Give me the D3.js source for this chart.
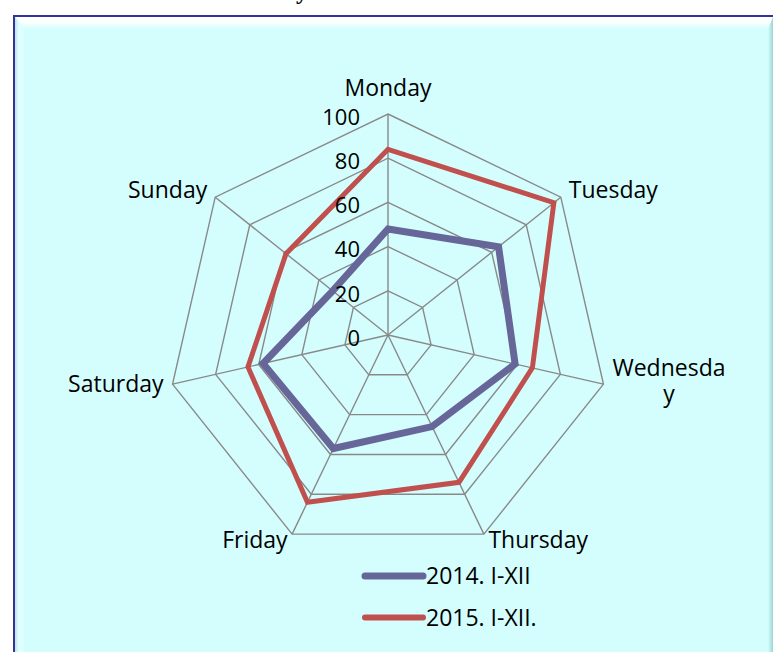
<!DOCTYPE html>
<html>
<head>
<meta charset="utf-8">
<script src="https://cdn.jsdelivr.net/npm/d3@7"></script>
<style>
  html, body { margin: 0; padding: 0; background: #fff; }
  svg { display: block; font-family: 'Open Sans', sans-serif; }
</style>
</head>
<body>
<div id="chart"></div>
<script>
// chart data
const days = ['Monday', 'Tuesday', 'Wednesday', 'Thursday', 'Friday', 'Saturday', 'Sunday'];
const values2014 = [48, 64, 59, 46, 57, 58, 32];
const values2015 = [84, 96, 67, 74, 84, 65, 59];
const tickValues = [0, 20, 40, 60, 80, 100];
const seriesNames = ['2014. I-XII', '2015. I-XII.'];
const seriesColors = ['#666699', '#c0504d'];

const width = 773;
const height = 652;
const cx = 388;
const cy = 335;

const svg = d3.select('#chart')
  .append('svg')
  .attr('width', width)
  .attr('height', height)
  .attr('viewBox', [0, 0, width, height]);

const defs = svg.append('defs');
const topGrad = defs.append('linearGradient').attr('id', 'bevelTop')
  .attr('x1', 0).attr('y1', 0).attr('x2', 0).attr('y2', 1);
topGrad.append('stop').attr('offset', '0%').attr('stop-color', '#ffffff');
topGrad.append('stop').attr('offset', '45%').attr('stop-color', '#fbffff');
topGrad.append('stop').attr('offset', '100%').attr('stop-color', '#d4fefe');
const leftGrad = defs.append('linearGradient').attr('id', 'bevelLeft')
  .attr('x1', 0).attr('y1', 0).attr('x2', 1).attr('y2', 0);
leftGrad.append('stop').attr('offset', '0%').attr('stop-color', '#b9e6ea');
leftGrad.append('stop').attr('offset', '40%').attr('stop-color', '#e6ffff');
leftGrad.append('stop').attr('offset', '100%').attr('stop-color', '#d4fefe');
const rightGrad = defs.append('linearGradient').attr('id', 'bevelRight')
  .attr('x1', 0).attr('y1', 0).attr('x2', 1).attr('y2', 0);
rightGrad.append('stop').attr('offset', '0%').attr('stop-color', '#d4fefe');
rightGrad.append('stop').attr('offset', '100%').attr('stop-color', '#9fd3d3');

// cropped title above the frame
svg.append('text')
  .attr('x', 302)
  .attr('y', -1)
  .attr('text-anchor', 'middle')
  .attr('font-family', "'Liberation Serif', serif")
  .attr('font-weight', 'bold')
  .attr('font-size', 24)
  .text('y');

// frame
svg.append('rect')
  .attr('x', 14)
  .attr('y', 16)
  .attr('width', width + 20)
  .attr('height', height + 20)
  .attr('fill', '#d4fefe')
  .attr('stroke', '#333399')
  .attr('stroke-width', 2);

svg.append('polygon')
  .attr('points', [[15, 17], [width, 17], [768, 29], [25, 29]].join(' '))
  .attr('fill', 'url(#bevelTop)');
svg.append('polygon')
  .attr('points', [[15, 17], [25, 29], [25, height], [15, height]].join(' '))
  .attr('fill', 'url(#bevelLeft)');
svg.append('polygon')
  .attr('points', [[width, 17], [768, 29], [768, height], [width, height]].join(' '))
  .attr('fill', 'url(#bevelRight)');

const r = d3.scaleLinear()
  .domain([0, 100])
  .range([0, 221]);

const angle = d3.scaleLinear()
  .domain([0, days.length])
  .range([0, 2 * Math.PI]);

const point = (i, v) => [cx + r(v) * Math.sin(angle(i)), cy - r(v) * Math.cos(angle(i))];

const g = svg.append('g');

// rings
const ring = d3.line().curve(d3.curveLinearClosed);
g.selectAll('.ring')
  .data(tickValues.filter((t) => t > 0))
  .join('path')
  .attr('class', 'ring')
  .attr('d', (t) => ring(days.map((d, i) => point(i, t))))
  .attr('fill', 'none')
  .attr('stroke', '#898989')
  .attr('stroke-width', 1.4);

// spokes
g.selectAll('.spoke')
  .data(days)
  .join('line')
  .attr('class', 'spoke')
  .attr('x1', cx)
  .attr('y1', cy)
  .attr('x2', (d, i) => point(i, 100)[0])
  .attr('y2', (d, i) => point(i, 100)[1])
  .attr('stroke', '#898989')
  .attr('stroke-width', 1.4);

// series
const radar = d3.lineRadial()
  .angle((d, i) => angle(i))
  .radius((d) => r(d))
  .curve(d3.curveLinearClosed);

[values2014, values2015].forEach((vals, k) => {
  g.append('path')
    .datum(vals)
    .attr('transform', `translate(${cx},${cy})`)
    .attr('d', radar)
    .attr('fill', 'none')
    .attr('stroke', seriesColors[k])
    .attr('stroke-width', k === 0 ? 7 : 5)
    .attr('stroke-linejoin', 'miter');
});

// value ticks
g.selectAll('.tick')
  .data(tickValues)
  .join('text')
  .attr('class', 'tick')
  .attr('x', cx - 28)
  .attr('y', (t) => cy - r(t) + 3)
  .attr('dy', '0.35em')
  .attr('text-anchor', 'end')
  .attr('font-size', 22)
  .attr('fill', '#000')
  .text((t) => t);

// category labels, wrapped like the original when too wide
const maxLabelWidth = 118;
const lineStep = 26;
const labels = g.selectAll('.cat')
  .data(days)
  .join('text')
  .attr('class', 'cat')
  .attr('font-size', 23)
  .attr('fill', '#000');

labels.each(function (d, i) {
  const text = d3.select(this);
  const [vx, vy] = point(i, 100);
  const s = Math.sin(angle(i));
  const c = Math.cos(angle(i));

  // split into lines that fit
  const lines = [];
  let cur = '';
  const probe = text.append('tspan');
  for (const ch of d) {
    probe.text(cur + ch);
    if (cur && probe.node().getComputedTextLength() > maxLabelWidth) {
      lines.push(cur);
      cur = ch;
    } else {
      cur += ch;
    }
  }
  lines.push(cur);
  probe.text(lines[0]);
  const firstWidth = probe.node().getComputedTextLength();
  probe.remove();

  let anchor = 'middle';
  let dx = 0;
  let dy;
  if (Math.abs(s) > 0.1) {
    anchor = s > 0 ? 'start' : 'end';
    if (c > 0) dx = 8;
    else if (c > -0.5) dx = 9;
    else dx = 4.5;
    dx *= Math.sign(s);
  }
  if (c > 0.95) dy = -18;
  else if (c > 0) dy = 1;
  else if (c > -0.5) dy = 8;
  else dy = 13.5;
  if (Math.abs(s) > 0.1 && lines.length > 1) dy -= (lines.length - 1) * 16;

  let x = vx + dx;
  if (lines.length > 1) {
    x = anchor === 'start' ? x + firstWidth / 2 : x - firstWidth / 2;
    anchor = 'middle';
  }
  text.attr('text-anchor', anchor);
  lines.forEach((line, j) => {
    text.append('tspan')
      .attr('x', x)
      .attr('y', vy + dy + j * lineStep)
      .text(line);
  });
});

// legend
const legend = svg.append('g')
  .attr('transform', 'translate(365,576)');

const legendItem = legend.selectAll('g')
  .data(seriesNames)
  .join('g')
  .attr('transform', (d, i) => `translate(0,${i * 41.5})`);

legendItem.append('line')
  .attr('x1', 0)
  .attr('x2', 58)
  .attr('stroke', (d, i) => seriesColors[i])
  .attr('stroke-width', (d, i) => (i === 0 ? 7 : 6))
  .attr('stroke-linecap', 'round');

legendItem.append('text')
  .attr('x', 61)
  .attr('y', 8)
  .attr('font-size', 23)
  .attr('fill', '#000')
  .text((d) => d);
</script>
</body>
</html>
